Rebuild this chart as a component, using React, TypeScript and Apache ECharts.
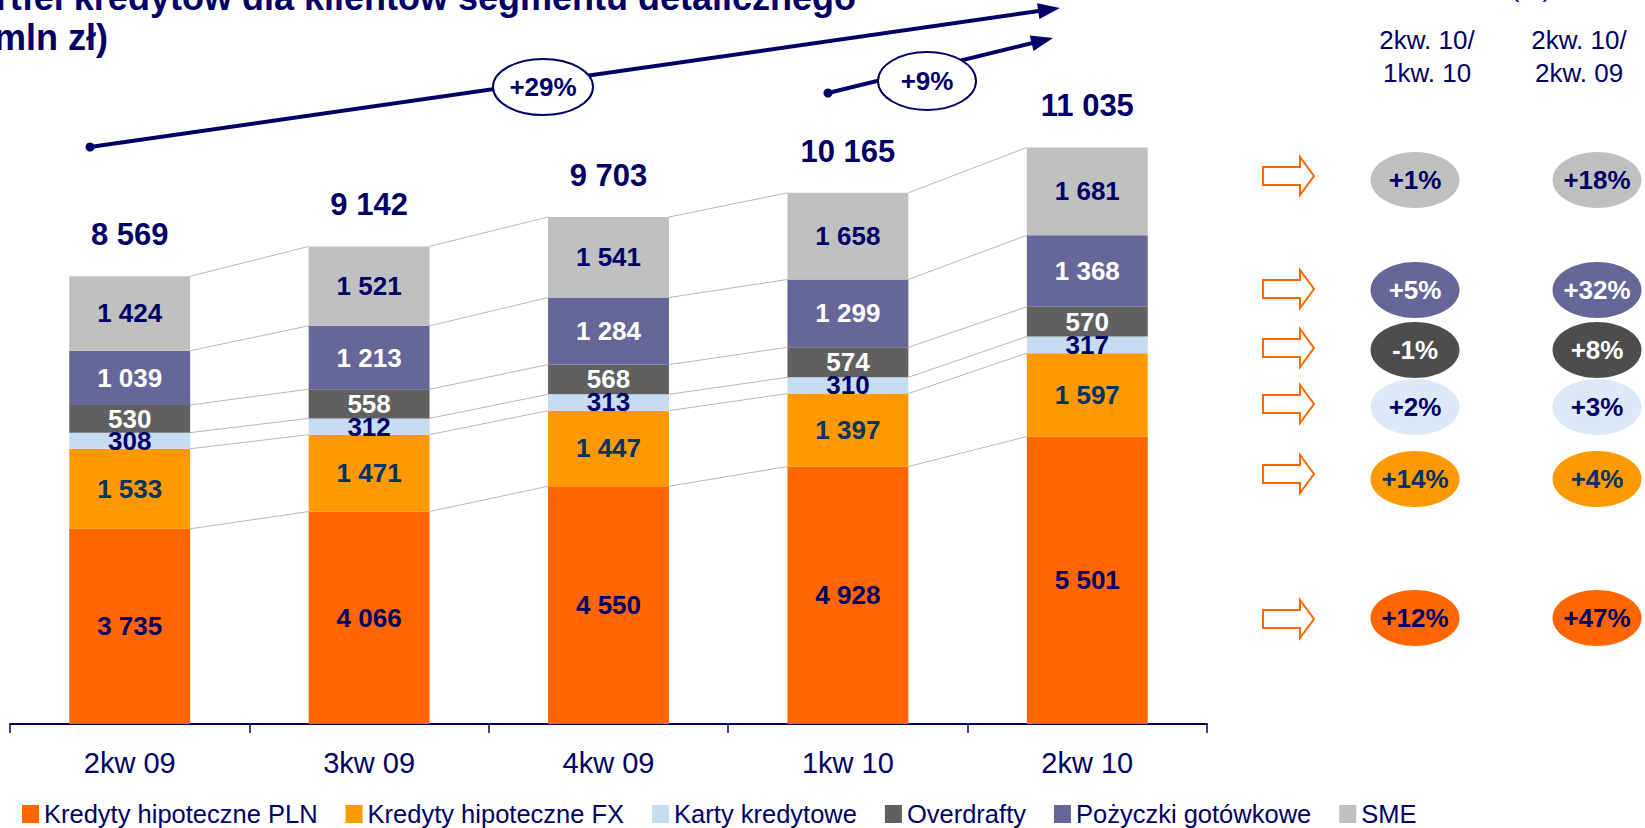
import React, { useEffect, useRef } from 'react';
import * as echarts from 'echarts';

const NAVY = '#000066';
const FONT = '"Liberation Sans", Arial, Helvetica, sans-serif';

// ---- data ----
const categories = ['2kw 09', '3kw 09', '4kw 09', '1kw 10', '2kw 10'];
const plnMortgage = [3735, 4066, 4550, 4928, 5501];
const fxMortgage = [1533, 1471, 1447, 1397, 1597];
const creditCards = [308, 312, 313, 310, 317];
const overdrafts = [530, 558, 568, 574, 570];
const cashLoans = [1039, 1213, 1284, 1299, 1368];
const smeLoans = [1424, 1521, 1541, 1658, 1681];
const totals = [8569, 9142, 9703, 10165, 11035];

const growthLong = '+29%';
const growthShort = '+9%';

const headerQoQ = ['2kw. 10/', '1kw. 10'];
const headerYoY = ['2kw. 10/', '2kw. 09'];
// rows top to bottom: SME, Pożyczki, Overdrafty, Karty, FX, PLN
const changeQoQ = ['+1%', '+5%', '-1%', '+2%', '+14%', '+12%'];
const changeYoY = ['+18%', '+32%', '+8%', '+3%', '+4%', '+47%'];

const titleLine1 = 'Portfel kredytów dla klientów segmentu detalicznego';
const titleLine2 = '(mln zł)';

const seriesDefs = [
  { name: 'Kredyty hipoteczne PLN', data: plnMortgage, color: '#ff6600', label: NAVY },
  { name: 'Kredyty hipoteczne FX', data: fxMortgage, color: '#ff9900', label: '#003366' },
  { name: 'Karty kredytowe', data: creditCards, color: '#c6dcf0', label: NAVY },
  { name: 'Overdrafty', data: overdrafts, color: '#606060', label: '#ffffff' },
  { name: 'Pożyczki gotówkowe', data: cashLoans, color: '#666699', label: '#ffffff' },
  { name: 'SME', data: smeLoans, color: '#c0c0c0', label: NAVY },
];

// right panel styles, rows top to bottom
const rowStyles = [
  { fill: '#c0c0c0', text: NAVY },
  { fill: '#666699', text: '#ffffff' },
  { fill: '#4d4d4d', text: '#ffffff' },
  { fill: '#dde9f6', text: NAVY },
  { fill: '#ff9900', text: '#003366' },
  { fill: '#ff6600', text: NAVY },
];
const rowY = [180, 290, 350, 407, 479, 618];
const arrowY = [176, 289, 348, 404, 474, 619];

const BAR_FRACTION = 0.505;

function fmt(v: number): string {
  return String(v).replace(/\B(?=(\d{3})+(?!\d))/g, ' ');
}

function arrowGraphics(sx: number, sy: number, tx: number, ty: number): any[] {
  const dx = tx - sx;
  const dy = ty - sy;
  const len = Math.sqrt(dx * dx + dy * dy);
  const ux = dx / len;
  const uy = dy / len;
  const nx = -uy;
  const ny = ux;
  const hl = 22;
  const hw = 8;
  const bx = tx - hl * ux;
  const by = ty - hl * uy;
  return [
    { type: 'line', shape: { x1: sx, y1: sy, x2: bx + 4 * ux, y2: by + 4 * uy }, style: { stroke: NAVY, lineWidth: 4 } },
    { type: 'polygon', shape: { points: [[tx, ty], [bx + hw * nx, by + hw * ny], [bx - hw * nx, by - hw * ny]] }, style: { fill: NAVY } },
    { type: 'circle', shape: { cx: sx, cy: sy, r: 4.5 }, style: { fill: NAVY } },
  ];
}

function bubble(cx: number, cy: number, rx: number, ry: number, text: string, fill: string, stroke: string | null, color: string): any[] {
  return [
    { type: 'ellipse', shape: { cx, cy, rx, ry }, style: stroke ? { fill, stroke, lineWidth: 2 } : { fill } },
    {
      type: 'text', x: cx, y: cy,
      style: { text, fill: color, fontSize: 26, fontWeight: 'bold', fontFamily: FONT, align: 'center', verticalAlign: 'middle' },
    },
  ];
}

function blockArrow(x0: number, cy: number): any {
  const pts = [
    [x0, cy - 9], [x0 + 37, cy - 9], [x0 + 37, cy - 19], [x0 + 51, cy],
    [x0 + 37, cy + 19], [x0 + 37, cy + 9], [x0, cy + 9],
  ];
  return { type: 'polygon', shape: { points: pts }, style: { fill: '#ffffff', stroke: '#ff6600', lineWidth: 2 } };
}

export default function App() {
  const ref = useRef<HTMLDivElement>(null);

  useEffect(() => {
    if (!ref.current) return;
    const chart = echarts.init(ref.current, null, { renderer: 'svg' });

    // connector lines between cumulative boundaries of neighbouring bars
    const connectorData: number[][] = [];
    for (let i = 0; i < categories.length - 1; i++) {
      let a = 0;
      let b = 0;
      for (let k = 0; k < seriesDefs.length; k++) {
        a += seriesDefs[k].data[i];
        b += seriesDefs[k].data[i + 1];
        connectorData.push([i, a, b]);
      }
    }

    const barSeries = seriesDefs.map((s) => ({
      name: s.name,
      type: 'bar',
      stack: 'total',
      barWidth: BAR_FRACTION * 100 + '%',
      data: s.data,
      itemStyle: { color: s.color },
      emphasis: { disabled: true },
      label: {
        show: true,
        position: 'inside',
        formatter: (p: any) => fmt(p.value),
        color: s.label,
        fontSize: 26,
        fontWeight: 'bold',
        fontFamily: FONT,
        textBorderWidth: 0,
      },
    }));

    const graphic: any[] = [];
    // title (partly outside the canvas)
    graphic.push({
      type: 'text', x: 856, y: -2.5,
      style: { text: titleLine1, fill: NAVY, fontSize: 36, fontWeight: 'bold', fontFamily: FONT, align: 'right', verticalAlign: 'middle' },
    });
    graphic.push({
      type: 'text', x: -18, y: 37.5,
      style: { text: titleLine2, fill: NAVY, fontSize: 36, fontWeight: 'bold', fontFamily: FONT, align: 'left', verticalAlign: 'middle' },
    });
    graphic.push({
      type: 'text', x: 1531, y: -12,
      style: { text: '(%)', fill: NAVY, fontSize: 26, fontFamily: FONT, align: 'center', verticalAlign: 'middle' },
    });

    // growth arrows
    graphic.push(...arrowGraphics(90, 147, 1060, 8));
    graphic.push(...arrowGraphics(828, 93, 1053, 38));
    graphic.push(...bubble(543, 87, 50, 28, growthLong, '#ffffff', NAVY, NAVY));
    graphic.push(...bubble(927, 81, 49, 29, growthShort, '#ffffff', NAVY, NAVY));

    // right panel headers
    [headerQoQ, headerYoY].forEach((lines, c) => {
      const x = c === 0 ? 1427 : 1579;
      lines.forEach((t, j) => {
        graphic.push({
          type: 'text', x, y: 40 + j * 33,
          style: { text: t, fill: NAVY, fontSize: 26, fontFamily: FONT, align: 'center', verticalAlign: 'middle' },
        });
      });
    });

    // right panel rows
    rowStyles.forEach((st, r) => {
      graphic.push(blockArrow(1263, arrowY[r]));
      graphic.push(...bubble(1415, rowY[r], 44.5, 28, changeQoQ[r], st.fill, null, st.text));
      graphic.push(...bubble(1597, rowY[r], 44.5, 28, changeYoY[r], st.fill, null, st.text));
    });

    const option: any = {
      animation: false,
      textStyle: { fontFamily: FONT },
      grid: { left: 10, right: 438, top: 97, bottom: 104 },
      legend: {
        data: seriesDefs.map((s) => s.name),
        left: 17,
        top: 796,
        icon: 'rect',
        itemWidth: 17,
        itemHeight: 18,
        itemGap: 28,
        selectedMode: false,
        textStyle: { fontSize: 25.5, color: NAVY, fontFamily: FONT },
      },
      xAxis: {
        type: 'category',
        data: categories,
        boundaryGap: true,
        axisLine: { show: true, lineStyle: { color: NAVY, width: 2 } },
        axisTick: { show: true, interval: 0, length: 9, lineStyle: { color: NAVY, width: 1.5 } },
        axisLabel: { color: NAVY, fontSize: 29, fontFamily: FONT, margin: 24, interval: 0 },
        splitLine: { show: false },
      },
      yAxis: {
        type: 'value',
        show: false,
        min: 0,
        max: 12000,
        splitLine: { show: false },
      },
      series: [
        {
          name: 'connectors',
          type: 'custom',
          silent: true,
          data: connectorData,
          encode: { x: 0, y: [1, 2] },
          renderItem: (params: any, api: any) => {
            const i = api.value(0) as number;
            const a = api.value(1) as number;
            const b = api.value(2) as number;
            const p1 = api.coord([i, a]);
            const p2 = api.coord([i + 1, b]);
            const half = (api.size([1, 0])[0] * BAR_FRACTION) / 2;
            return {
              type: 'line',
              shape: { x1: p1[0] + half, y1: p1[1], x2: p2[0] - half, y2: p2[1] },
              style: { stroke: '#b8b8b8', lineWidth: 1 },
            };
          },
        },
        ...barSeries,
        {
          name: 'Suma',
          type: 'bar',
          stack: 'total',
          data: totals.map(() => 0),
          itemStyle: { color: 'rgba(0,0,0,0)' },
          emphasis: { disabled: true },
          label: {
            show: true,
            position: 'top',
            distance: 26,
            formatter: (p: any) => fmt(totals[p.dataIndex]),
            color: NAVY,
            fontSize: 31,
            fontWeight: 'bold',
            fontFamily: FONT,
            textBorderWidth: 0,
          },
        },
      ],
      graphic,
    };

    chart.setOption(option);
    return () => chart.dispose();
  }, []);

  return <div ref={ref} style={{ position: 'absolute', left: 0, top: 0, width: 1645, height: 828 }} />;
}
